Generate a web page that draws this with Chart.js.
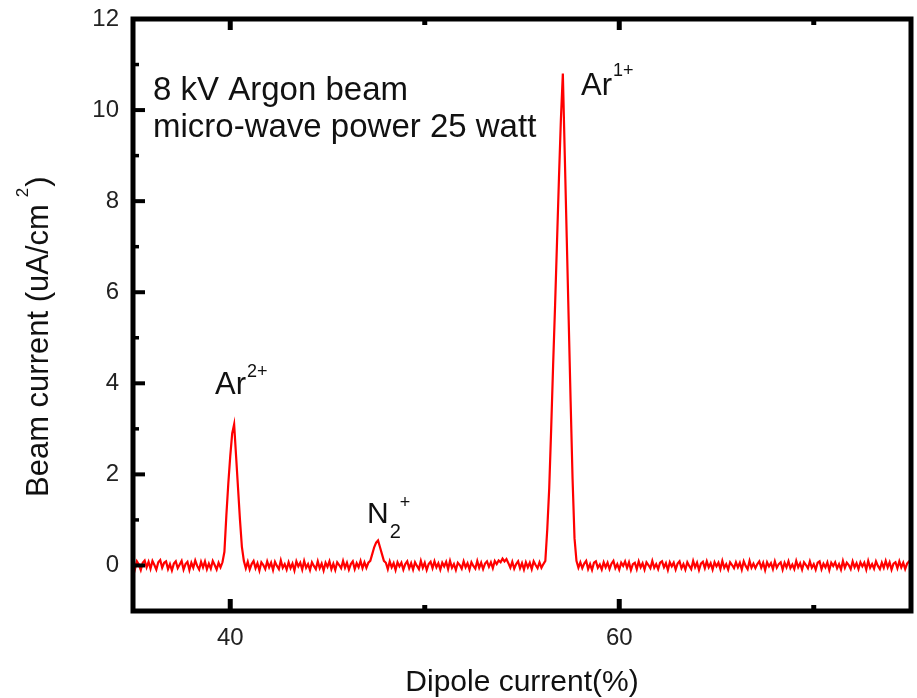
<!DOCTYPE html>
<html>
<head>
<meta charset="utf-8">
<script src="https://cdn.jsdelivr.net/npm/chart.js@4.4.0/dist/chart.umd.min.js"></script>
<style>
  html, body { margin: 0; padding: 0; background: #fff; }
  #wrap { width: 917px; height: 698px; }
</style>
</head>
<body>
<div id="wrap"><canvas id="beamChart" width="917" height="698"></canvas></div>
<script>
// dipole current sampled every 0.1 % from 35 to 75
var dipoleStart = 35;
var dipoleStep = 0.1;

// beam current (uA/cm2), one row per 1 % of dipole current
var beamCurrent = [
  0.05, -0.08, 0.09, 0.02, -0.10, 0.06, 0.11, -0.04, 0.08, -0.07,   // 35
  0.10, 0.01, -0.09, 0.07, 0.12, -0.05, 0.06, 0.09, -0.08, 0.03,    // 36
  -0.11, 0.04, 0.09, -0.06, 0.02, 0.10, -0.09, 0.03, 0.08, -0.10,   // 37
  0.06, -0.05, 0.11, -0.01, -0.09, 0.08, -0.04, 0.09, -0.08, 0.04,  // 38
  -0.07, 0.10, 0.01, -0.09, 0.06, -0.04, 0.07, 0.30, 1.10, 1.80,    // 39
  2.40, 2.90, 3.10, 2.40, 1.70, 1.00, 0.40, 0.10, -0.06, 0.08,      // 40
  -0.09, 0.03, 0.10, -0.06, 0.05, -0.11, 0.07, 0.01, -0.08, 0.09,   // 41
  -0.04, 0.06, -0.10, 0.08, -0.01, -0.08, 0.11, -0.05, 0.03, -0.09, // 42
  0.07, -0.06, 0.04, -0.11, 0.09, -0.02, 0.06, -0.09, 0.10, -0.05,  // 43
  0.03, -0.10, 0.07, -0.01, -0.08, 0.09, -0.06, 0.04, -0.11, 0.06,  // 44
  -0.03, 0.09, -0.08, 0.04, -0.10, 0.07, 0.01, -0.06, 0.10, -0.05,  // 45
  0.06, -0.09, 0.03, 0.09, -0.08, 0.05, -0.04, 0.10, -0.06, 0.07,   // 46
  -0.05, 0.06, 0.10, 0.25, 0.40, 0.50, 0.55, 0.40, 0.25, 0.10,      // 47
  0.06, -0.08, 0.09, -0.04, 0.05, -0.10, 0.07, -0.02, 0.06, -0.09,  // 48
  0.03, 0.09, -0.06, 0.05, -0.09, 0.07, -0.01, -0.08, 0.10, -0.05,  // 49
  0.06, -0.10, 0.03, 0.08, -0.06, 0.09, -0.04, 0.05, -0.09, 0.06,   // 50
  -0.02, 0.08, -0.08, 0.10, -0.05, 0.03, -0.10, 0.06, 0.01, -0.07,  // 51
  0.09, -0.04, 0.05, -0.09, 0.07, -0.01, -0.07, 0.10, -0.05, 0.06,  // 52
  -0.08, 0.04, 0.09, -0.03, 0.07, -0.06, 0.10, 0.03, 0.11, 0.07,    // 53
  0.15, 0.09, 0.14, 0.05, -0.05, 0.08, -0.07, 0.03, 0.09, -0.06,    // 54
  0.05, -0.09, 0.07, -0.04, 0.06, -0.08, 0.09, 0.01, -0.06, 0.07,   // 55
  -0.05, 0.03, 0.10, 0.80, 1.70, 3.00, 4.40, 5.70, 7.10, 8.50,      // 56
  9.80, 10.80, 9.00, 7.20, 5.40, 3.60, 1.90, 0.60, 0.10, -0.05,     // 57
  0.07, -0.06, 0.04, 0.10, -0.08, 0.03, -0.10, 0.06, 0.09, -0.05,   // 58
  0.02, -0.09, 0.07, -0.04, 0.06, -0.08, 0.04, 0.10, -0.06, 0.03,   // 59
  -0.09, 0.06, -0.01, 0.09, -0.05, 0.07, -0.10, 0.03, 0.06, -0.08,  // 60
  0.09, -0.04, 0.05, -0.09, 0.07, 0.01, -0.06, 0.10, -0.05, 0.03,   // 61
  -0.08, 0.06, 0.09, -0.04, 0.05, -0.10, 0.07, -0.02, 0.06, -0.09,  // 62
  0.04, 0.09, -0.06, 0.03, -0.09, 0.07, -0.01, -0.08, 0.10, -0.04,  // 63
  0.06, -0.10, 0.04, 0.08, -0.06, 0.09, -0.04, 0.05, -0.09, 0.07,   // 64
  -0.02, 0.06, -0.08, 0.10, -0.05, 0.03, -0.09, 0.07, 0.01, -0.06,  // 65
  0.07, -0.04, 0.06, -0.09, 0.09, -0.01, -0.08, 0.10, -0.05, 0.04,  // 66
  -0.06, 0.03, 0.09, -0.05, 0.06, -0.10, 0.07, -0.02, 0.05, -0.08,  // 67
  0.09, -0.05, 0.03, 0.07, -0.09, 0.06, -0.04, 0.09, -0.06, 0.02,   // 68
  -0.08, 0.10, -0.04, 0.05, -0.09, 0.07, 0.01, -0.06, 0.09, -0.05,  // 69
  0.03, -0.09, 0.06, 0.09, -0.08, 0.04, -0.04, 0.07, -0.10, 0.06,   // 70
  -0.01, 0.07, -0.06, 0.03, -0.09, 0.10, -0.05, 0.06, 0.01, -0.08,  // 71
  0.09, -0.04, 0.05, -0.08, 0.07, -0.02, 0.06, -0.09, 0.10, -0.05,  // 72
  0.03, -0.07, 0.09, -0.01, -0.08, 0.06, -0.05, 0.10, -0.04, 0.07,  // 73
  -0.09, 0.04, 0.07, -0.06, 0.09, -0.04, 0.06, -0.08, 0.04, 0.09,   // 74
  0.01                                                              // 75
];

var xTickLabels = [40, 60];
var xMinorTicks = [50, 70];
var yTickLabels = [0, 2, 4, 6, 8, 10, 12];
var yMinorTicks = [1, 3, 5, 7, 9, 11];

var points = beamCurrent.map(function (v, i) {
  return { x: +(dipoleStart + i * dipoleStep).toFixed(1), y: v };
});

var FONT = '"Liberation Sans", Arial, sans-serif';

// thick box and inward ticks like the original plot
var framePlugin = {
  id: 'frame',
  afterDatasetsDraw: function (chart) {
    var ctx = chart.ctx, a = chart.chartArea;
    var xs = chart.scales.x, ys = chart.scales.y;
    function seg(x1, y1, x2, y2, w) {
      ctx.lineWidth = w;
      ctx.beginPath();
      ctx.moveTo(x1, y1);
      ctx.lineTo(x2, y2);
      ctx.stroke();
    }
    ctx.save();
    ctx.strokeStyle = '#000';
    xTickLabels.forEach(function (v) {
      var px = xs.getPixelForValue(v);
      seg(px, a.bottom, px, a.bottom - 12, 5);
      seg(px, a.top, px, a.top + 11, 5);
    });
    xMinorTicks.forEach(function (v) {
      var px = xs.getPixelForValue(v);
      seg(px, a.bottom, px, a.bottom - 6, 5);
      seg(px, a.top, px, a.top + 6, 5);
    });
    yTickLabels.forEach(function (v) {
      var py = ys.getPixelForValue(v);
      seg(a.left, py, a.left + 12, py, 4);
    });
    yMinorTicks.forEach(function (v) {
      var py = ys.getPixelForValue(v);
      seg(a.left, py, a.left + 6, py, 3.5);
    });
    ctx.lineWidth = 5;
    ctx.strokeRect(a.left, a.top, a.right - a.left, a.bottom - a.top);
    ctx.restore();
  }
};

var textPlugin = {
  id: 'texts',
  afterDraw: function (chart) {
    var ctx = chart.ctx;
    ctx.save();
    ctx.fillStyle = '#111';
    ctx.textBaseline = 'alphabetic';
    ctx.textAlign = 'left';
    function put(t, x, y, size) {
      ctx.font = size + 'px ' + FONT;
      ctx.fillText(t, x, y);
      return ctx.measureText(t).width;
    }

    put('8 kV Argon beam', 153, 100, 33);
    put('micro-wave power 25 watt', 153, 137, 33);

    var w = put('Ar', 215, 394, 31);
    put('2+', 215 + w + 1, 377, 18);

    w = put('N', 367, 523, 30);
    put('2', 367 + w + 1, 538, 20);
    put('+', 367 + w + 11, 508, 18);

    w = put('Ar', 581, 95, 31);
    put('1+', 581 + w + 1, 76, 18);

    // x axis title
    ctx.textAlign = 'center';
    put('Dipole current(%)', 522, 691, 30);

    // y axis title, rotated, with raised 2
    ctx.textAlign = 'left';
    ctx.translate(48, 497);
    ctx.rotate(-Math.PI / 2);
    var w1 = put('Beam current (uA/cm', 0, 0, 31);
    var w2 = put('2', w1 + 7, -20, 17);
    put(')', w1 + 7 + w2 + 1, 0, 31);
    ctx.restore();
  }
};

var ctx = document.getElementById('beamChart').getContext('2d');
var beamChart = new Chart(ctx, {
  type: 'line',
  data: {
    datasets: [{
      data: points,
      borderColor: '#ff0000',
      borderWidth: 2.2,
      pointRadius: 0,
      tension: 0,
      fill: false
    }]
  },
  options: {
    responsive: false,
    animation: false,
    layout: { padding: { top: 19, right: 6, left: 0, bottom: 0 } },
    plugins: { legend: { display: false }, tooltip: { enabled: false } },
    scales: {
      x: {
        type: 'linear',
        min: 35,
        max: 75,
        grid: { display: false, drawTicks: false },
        border: { display: false },
        afterBuildTicks: function (s) { s.ticks = xTickLabels.map(function (v) { return { value: v }; }); },
        afterFit: function (s) { s.height = 87; s.paddingLeft = 0; s.paddingRight = 0; },
        ticks: { font: { size: 24, family: FONT }, color: '#222', padding: 13, maxRotation: 0 }
      },
      y: {
        min: -1,
        max: 12,
        grid: { display: false, drawTicks: false },
        border: { display: false },
        afterBuildTicks: function (s) { s.ticks = yTickLabels.map(function (v) { return { value: v }; }); },
        afterFit: function (s) { s.width = 133; s.paddingTop = 0; s.paddingBottom = 0; },
        ticks: { font: { size: 24, family: FONT }, color: '#222', padding: 14 }
      }
    }
  },
  plugins: [framePlugin, textPlugin]
});
</script>
</body>
</html>
